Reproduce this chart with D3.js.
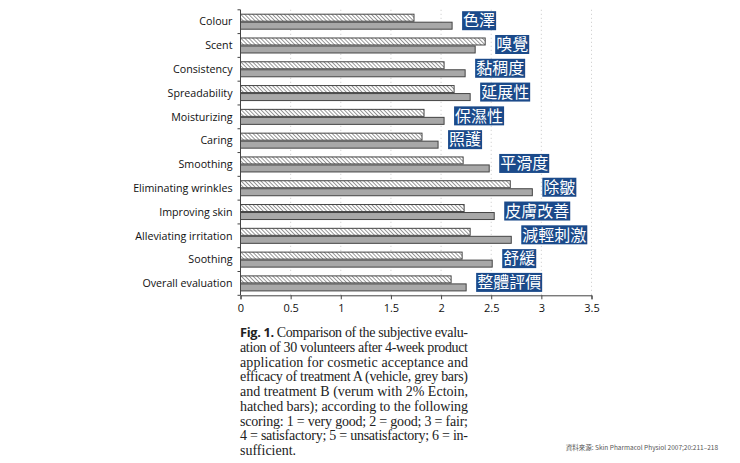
<!DOCTYPE html>
<html>
<head>
<meta charset="utf-8">
<script src="https://cdn.jsdelivr.net/npm/d3@7"></script>
<style>
  body { margin: 0; background: #fff; }
  svg { display: block; }
</style>
</head>
<body>
<script>
// categories top to bottom
const categories = ["Colour", "Scent", "Consistency", "Spreadability", "Moisturizing", "Caring",
  "Smoothing", "Eliminating wrinkles", "Improving skin", "Alleviating irritation", "Soothing", "Overall evaluation"];
// treatment B (Ectoin, hatched) and treatment A (vehicle, grey)
const hatchedVals = [1.73, 2.44, 2.03, 2.13, 1.83, 1.81, 2.22, 2.69, 2.23, 2.29, 2.21, 2.10];
const greyVals    = [2.11, 2.34, 2.24, 2.29, 2.03, 1.97, 2.48, 2.91, 2.53, 2.70, 2.51, 2.25];
// chinese notes beside each pair
const notes = ["色澤", "嗅覺", "黏稠度", "延展性", "保濕性", "照護", "平滑度", "除皺", "皮膚改善", "減輕刺激", "舒緩", "整體評價"];
const xTicks = [0, 0.5, 1, 1.5, 2, 2.5, 3, 3.5];
const captionLines = [
  "Comparison of the subjective evalu-",
  "ation of 30 volunteers after 4-week product",
  "application for cosmetic acceptance and",
  "efficacy of treatment A (vehicle, grey bars)",
  "and treatment B (verum with 2% Ectoin,",
  "hatched bars); according to the following",
  "scoring: 1 = very good; 2 = good; 3 = fair;",
  "4 = satisfactory; 5 = unsatisfactory; 6 = in-",
  "sufficient."
];
const source = "資料來源: Skin Pharmacol Physiol 2007;20:211–218";

const W = 740, H = 463;
const svg = d3.select("body").append("svg").attr("width", W).attr("height", H);

// hatch pattern
const defs = svg.append("defs");
const pat = defs.append("pattern")
  .attr("id", "hatch").attr("patternUnits", "userSpaceOnUse")
  .attr("width", 2.8).attr("height", 2.8)
  .attr("patternTransform", "rotate(-45)");
pat.append("rect").attr("width", 2.8).attr("height", 2.8).attr("fill", "#fff");
pat.append("line").attr("x1", 0).attr("y1", 0).attr("x2", 0).attr("y2", 2.8)
  .attr("stroke", "#555").attr("stroke-width", 1.2);

const x = d3.scaleLinear().domain([0, 3.5]).range([240.5, 591.5]);
const y = d3.scaleBand().domain(categories).range([9.8, 295.3]);

const g = svg.append("g");

// dotted grid
g.selectAll(".grid").data(xTicks.slice(1)).enter().append("line")
  .attr("x1", d => x(d)).attr("x2", d => x(d))
  .attr("y1", 9.8).attr("y2", 295.3)
  .attr("stroke", "#bbb").attr("stroke-width", 0.8).attr("stroke-dasharray", "1,3");

// bars
const barH = 7;
g.selectAll(".hb").data(categories).enter().append("rect")
  .attr("x", x(0)).attr("y", d => y(d) + y.bandwidth() / 2 - barH - 0.5)
  .attr("width", (d, i) => x(hatchedVals[i]) - x(0)).attr("height", barH)
  .attr("fill", "url(#hatch)").attr("stroke", "#444").attr("stroke-width", 1);

g.selectAll(".gb").data(categories).enter().append("rect")
  .attr("x", x(0)).attr("y", d => y(d) + y.bandwidth() / 2 + 0.5)
  .attr("width", (d, i) => x(greyVals[i]) - x(0)).attr("height", barH)
  .attr("fill", "#a8a8a8").attr("stroke", "#444").attr("stroke-width", 1);

// axes
const yAxis = g.append("g").attr("transform", "translate(" + x(0) + ",0)");
yAxis.append("line").attr("x1", 0).attr("x2", 0).attr("y1", 9.8).attr("y2", 295.3)
  .attr("stroke", "#444").attr("stroke-width", 1);
yAxis.selectAll(".yt").data(categories.concat(["_end"])).enter().append("line")
  .attr("x1", -3).attr("x2", 0)
  .attr("y1", (d, i) => 9.8 + i * y.step()).attr("y2", (d, i) => 9.8 + i * y.step())
  .attr("stroke", "#444");
yAxis.selectAll(".yl").data(categories).enter().append("text")
  .attr("x", -8).attr("y", d => y(d) + y.bandwidth() / 2)
  .attr("dy", "0.35em").attr("text-anchor", "end")
  .attr("font-family", "'Open Sans', sans-serif").attr("font-size", 10.7)
  .attr("fill", "#111").text(d => d);

const xAxis = g.append("g").attr("transform", "translate(0,295.3)")
  .call(d3.axisBottom(x).tickValues(xTicks).tickSize(4).tickFormat(d3.format("")));
xAxis.select(".domain").attr("stroke", "#444");
xAxis.selectAll(".tick line").attr("stroke", "#444");
xAxis.selectAll(".tick text").attr("font-family", "'Open Sans', sans-serif")
  .attr("font-size", 11).attr("fill", "#111").attr("dy", "0.9em");

// chinese notes
const nG = g.selectAll(".note").data(categories).enter().append("g")
  .attr("transform", (d, i) => "translate(" + (x(Math.max(hatchedVals[i], greyVals[i])) + 10) + "," + (y(d) + y.bandwidth() / 2 - 1) + ")");
nG.append("text")
  .attr("x", 1).attr("dy", "0.36em")
  .attr("font-family", "'Noto Sans CJK TC', sans-serif").attr("font-size", 16)
  .attr("fill", "#fff").text((d, i) => notes[i])
  .each(function() {
    const b = this.getBBox();
    d3.select(this.parentNode).insert("rect", "text")
      .attr("x", b.x - 1).attr("y", -9.5).attr("width", b.width + 2).attr("height", 19)
      .attr("fill", "#1b4a8a");
  });

// caption
const cap = svg.append("g").attr("font-family", "'Liberation Serif', serif")
  .attr("font-size", 14).attr("fill", "#222");
captionLines.forEach((line, i) => {
  const t = cap.append("text").attr("x", 240).attr("y", 337 + i * 14.75);
  if (i < captionLines.length - 1) t.attr("textLength", 228).attr("lengthAdjust", "spacing");
  if (i === 0) {
    t.append("tspan").attr("font-family", "'Open Sans', sans-serif").attr("font-weight", "bold")
      .attr("font-size", 12.8).text("Fig. 1. ");
  }
  t.append("tspan").text(line);
});

svg.append("text").attr("x", 718).attr("y", 450).attr("text-anchor", "end")
  .attr("font-family", "'Noto Sans CJK TC', sans-serif").attr("font-size", 6.5)
  .attr("fill", "#555").text(source);
</script>
</body>
</html>
